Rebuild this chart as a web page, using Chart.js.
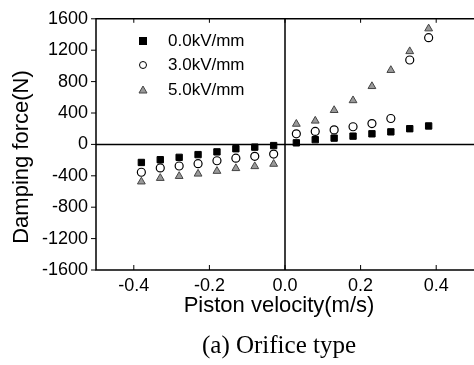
<!DOCTYPE html>
<html>
<head>
<meta charset="utf-8">
<script src="https://cdn.jsdelivr.net/npm/chart.js@4/dist/chart.umd.min.js"></script>
<style>
  html, body { margin: 0; padding: 0; background: #fff; }
  #wrap { width: 474px; height: 365px; position: relative; }
</style>
</head>
<body>
<div id="wrap"><canvas id="chart"></canvas></div>
<script>
// data
const velocity = [-0.38, -0.33, -0.28, -0.23, -0.18, -0.13, -0.08, -0.03, 0.03, 0.08, 0.13, 0.18, 0.23, 0.28, 0.33, 0.38]
const force0kV = [-230, -195, -165, -130, -95, -55, -35, -15, 20, 60, 80, 105, 135, 160, 200, 235]
const force3kV = [-355, -300, -275, -245, -208, -175, -152, -123, 135, 165, 185, 225, 265, 330, 1075, 1360]
const force5kV = [-475, -430, -405, -375, -340, -305, -280, -250, 260, 300, 435, 560, 740, 945, 1185, 1475]
const seriesNames = ['0.0kV/mm', '3.0kV/mm', '5.0kV/mm']
const xTicks = [-0.4, -0.2, 0.0, 0.2, 0.4]
const yTicks = [-1600, -1200, -800, -400, 0, 400, 800, 1200, 1600]

const sans = "'Liberation Sans', Arial, sans-serif"
const serif = "'Liberation Serif', 'Times New Roman', serif"

const pts = ys => velocity.map((x, i) => ({ x: x, y: ys[i] }))

// axes frame, zero lines, ticks, titles, legend and caption
const decor = {
    id: 'decor',
    afterDatasetsDraw(chart) {
        const { ctx, chartArea: a, scales: { x, y } } = chart
        ctx.save()
        ctx.strokeStyle = '#000'
        ctx.lineWidth = 1.5
        ctx.beginPath()
        ctx.moveTo(a.right, a.top); ctx.lineTo(a.left, a.top)
        ctx.lineTo(a.left, a.bottom); ctx.lineTo(a.right, a.bottom)
        const x0 = x.getPixelForValue(0), y0 = y.getPixelForValue(0)
        ctx.moveTo(x0, a.top); ctx.lineTo(x0, a.bottom)
        ctx.moveTo(a.left, y0); ctx.lineTo(a.right, y0)
        ctx.stroke()

        ctx.lineWidth = 1
        ctx.beginPath()
        xTicks.forEach(v => {
            const px = x.getPixelForValue(v)
            ctx.moveTo(px, a.bottom); ctx.lineTo(px, a.bottom - 5)
            ctx.moveTo(px, a.top); ctx.lineTo(px, a.top + 4)
        })
        yTicks.forEach(v => {
            const py = y.getPixelForValue(v)
            ctx.moveTo(a.left, py); ctx.lineTo(a.left - 5, py)
        })
        ctx.stroke()

        // legend
        const lx = 143, ty = [41, 65, 90]
        ctx.fillStyle = '#000'
        ctx.fillRect(lx - 4, ty[0] - 4, 8, 8)
        ctx.beginPath()
        ctx.arc(lx, ty[1], 3.5, 0, Math.PI * 2)
        ctx.strokeStyle = '#000'
        ctx.lineWidth = 1
        ctx.stroke()
        ctx.beginPath()
        ctx.moveTo(lx, ty[2] - 4); ctx.lineTo(lx + 4, ty[2] + 3); ctx.lineTo(lx - 4, ty[2] + 3)
        ctx.closePath()
        ctx.fillStyle = '#999'
        ctx.fill()
        ctx.strokeStyle = '#444'
        ctx.stroke()

        ctx.fillStyle = '#000'
        ctx.font = '17px ' + sans
        ctx.textBaseline = 'middle'
        ctx.textAlign = 'left'
        seriesNames.forEach((s, i) => ctx.fillText(s, 168, ty[i]))

        // axis titles
        ctx.textAlign = 'center'
        ctx.font = '22px ' + sans
        ctx.fillText('Piston velocity(m/s)', 279, 306)
        ctx.save()
        ctx.translate(22, 157)
        ctx.rotate(-Math.PI / 2)
        ctx.fillText('Damping force(N)', 0, 0)
        ctx.restore()

        // caption
        ctx.font = '25px ' + serif
        ctx.fillText('(a) Orifice type', 279, 346)
        ctx.restore()
    }
}

new Chart(document.querySelector('#chart'), {
    type: 'scatter',
    data: {
        datasets: [
            {
                label: seriesNames[0],
                data: pts(force0kV),
                pointStyle: 'rect',
                pointRadius: 4.5,
                backgroundColor: '#000',
                borderColor: '#000',
                borderWidth: 1
            },
            {
                label: seriesNames[1],
                data: pts(force3kV),
                pointStyle: 'circle',
                pointRadius: 4,
                backgroundColor: '#fff',
                borderColor: '#000',
                borderWidth: 1.2
            },
            {
                label: seriesNames[2],
                data: pts(force5kV),
                pointStyle: 'triangle',
                pointRadius: 4.5,
                backgroundColor: '#999',
                borderColor: '#444',
                borderWidth: 1
            }
        ]
    },
    options: {
        responsive: true,
        maintainAspectRatio: false,
        animation: false,
        layout: { autoPadding: false, padding: { top: 15, right: 0, left: 0, bottom: 50 } },
        plugins: {
            legend: { display: false },
            tooltip: { enabled: false }
        },
        scales: {
            x: {
                type: 'linear',
                min: -0.5,
                max: 0.5,
                afterBuildTicks: s => { s.ticks = xTicks.map(v => ({ value: v })) },
                afterFit: s => { s.height = 45 },
                grid: { display: false, drawTicks: false },
                border: { display: false },
                ticks: {
                    color: '#000',
                    font: { family: sans, size: 18 },
                    padding: 5,
                    maxRotation: 0,
                    callback: v => v.toFixed(1)
                }
            },
            y: {
                min: -1600,
                max: 1600,
                afterBuildTicks: s => { s.ticks = yTicks.map(v => ({ value: v })) },
                afterFit: s => { s.width = 96 },
                grid: { display: false, drawTicks: false },
                border: { display: false },
                ticks: {
                    color: '#000',
                    font: { family: sans, size: 18 },
                    padding: 8,
                    callback: v => String(v)
                }
            }
        }
    },
    plugins: [decor]
})
</script>
</body>
</html>
